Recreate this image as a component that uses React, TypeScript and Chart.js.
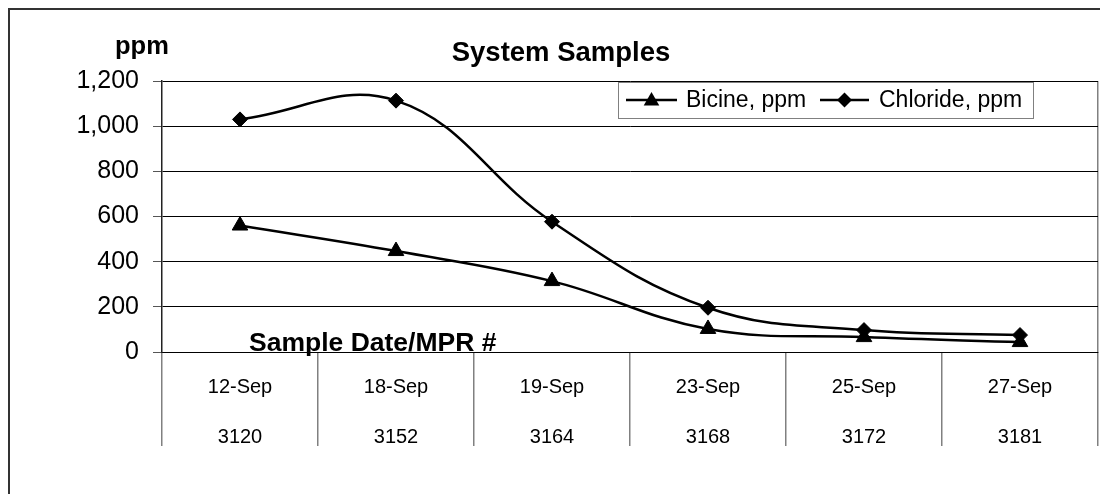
import React, { useEffect, useRef } from 'react';
import { Chart, registerables } from 'chart.js';

Chart.register(...registerables);

const dates = ['12-Sep', '18-Sep', '19-Sep', '23-Sep', '25-Sep', '27-Sep'];
const mprNumbers = ['3120', '3152', '3164', '3168', '3172', '3181'];
const bicine = [560, 447, 314, 102, 66, 44];
const chloride = [1030, 1113, 577, 196, 97, 75];
const seriesNames = ['Bicine, ppm', 'Chloride, ppm'];
const chartTitle = 'System Samples';
const yTitle = 'ppm';
const xTitle = 'Sample Date/MPR #';
const yMin = 0;
const yMax = 1200;
const yStep = 200;

const FONT = '"Liberation Sans", Arial, Helvetica, sans-serif';

function drawTriangle(ctx: CanvasRenderingContext2D, x: number, y: number, r: number) {
  ctx.beginPath();
  ctx.moveTo(x, y - r);
  ctx.lineTo(x + r * Math.sin((2 * Math.PI) / 3), y - r * Math.cos((2 * Math.PI) / 3));
  ctx.lineTo(x + r * Math.sin((4 * Math.PI) / 3), y - r * Math.cos((4 * Math.PI) / 3));
  ctx.closePath();
  ctx.fill();
}

function drawDiamond(ctx: CanvasRenderingContext2D, x: number, y: number, r: number) {
  ctx.beginPath();
  ctx.moveTo(x - r, y);
  ctx.lineTo(x, y - r);
  ctx.lineTo(x + r, y);
  ctx.lineTo(x, y + r);
  ctx.closePath();
  ctx.fill();
}

const decorPlugin = {
  id: 'decor',
  afterDraw(chart: any) {
    const ctx: CanvasRenderingContext2D = chart.ctx;
    ctx.save();
    // outer chart border
    ctx.strokeStyle = '#333333';
    ctx.lineWidth = 2;
    ctx.strokeRect(9, 9, 1110, 520);

    // axis titles
    ctx.fillStyle = '#000';
    ctx.font = `bold 25.5px ${FONT}`;
    ctx.textAlign = 'left';
    ctx.textBaseline = 'alphabetic';
    ctx.fillText(yTitle, 115, 54);
    ctx.font = `bold 26.5px ${FONT}`;
    ctx.fillText(xTitle, 249, 351);

    // legend box
    const bx = 618, by = 82, bw = 415, bh = 36;
    ctx.fillStyle = '#fff';
    ctx.fillRect(bx, by, bw, bh);
    ctx.strokeStyle = '#808080';
    ctx.lineWidth = 1;
    ctx.strokeRect(bx + 0.5, by + 0.5, bw, bh);

    const cy = by + bh / 2;
    ctx.strokeStyle = '#000';
    ctx.fillStyle = '#000';
    ctx.lineWidth = 2.5;
    // bicine sample
    ctx.beginPath();
    ctx.moveTo(626, cy);
    ctx.lineTo(677, cy);
    ctx.stroke();
    drawTriangle(ctx, 651.5, cy + 1, 9);
    // chloride sample
    ctx.beginPath();
    ctx.moveTo(820, cy);
    ctx.lineTo(869, cy);
    ctx.stroke();
    drawDiamond(ctx, 844.5, cy, 7.5);

    ctx.font = `23px ${FONT}`;
    ctx.textBaseline = 'middle';
    ctx.fillText(seriesNames[0], 686, cy + 1);
    ctx.fillText(seriesNames[1], 879, cy + 1);
    ctx.restore();
  },
};

export default function App() {
  const canvasRef = useRef<HTMLCanvasElement | null>(null);

  useEffect(() => {
    const canvas = canvasRef.current;
    if (!canvas) return;
    Chart.defaults.font.family = FONT;
    const labels = dates.map((d, i) => [d, mprNumbers[i]]);
    const chart = new Chart(canvas, {
      type: 'line',
      data: {
        labels,
        datasets: [
          {
            label: seriesNames[0],
            data: bicine,
            borderColor: '#000',
            backgroundColor: '#000',
            borderWidth: 2.5,
            pointStyle: 'triangle',
            pointRadius: 9,
            pointBorderWidth: 1,
            tension: 0.4,
            fill: false,
          },
          {
            label: seriesNames[1],
            data: chloride,
            borderColor: '#000',
            backgroundColor: '#000',
            borderWidth: 2.5,
            pointStyle: 'rectRot',
            pointRadius: 7.5,
            pointBorderWidth: 1,
            tension: 0.4,
            fill: false,
          },
        ],
      },
      options: {
        animation: false,
        responsive: false,
        devicePixelRatio: 1,
        layout: { autoPadding: false, padding: { left: 24, right: 2, top: 0, bottom: 0 } },
        plugins: {
          legend: { display: false },
          tooltip: { enabled: false },
          title: {
            display: true,
            text: chartTitle,
            color: '#000',
            font: { size: 27.5, weight: 'bold', family: FONT, lineHeight: 1.2 },
            padding: { top: 37, bottom: 11 },
          },
        },
        scales: {
          x: {
            type: 'category',
            offset: true,
            grid: {
              offset: true,
              drawOnChartArea: true,
              drawTicks: true,
              tickLength: 94,
              color: (c: any) => (c.index === undefined ? '#808080' : 'rgba(0,0,0,0)'),
              tickColor: '#808080',
              lineWidth: 1.5,
            },
            border: { display: true, color: '#000', width: 1 },
            ticks: {
              autoSkip: false,
              maxRotation: 0,
              minRotation: 0,
              padding: -84,
              color: '#000',
              font: { size: 20, family: FONT, lineHeight: 2.5 },
            },
            afterFit: (scale: any) => {
              scale.height = 142;
            },
          },
          y: {
            min: yMin,
            max: yMax,
            grid: {
              color: '#000',
              lineWidth: 1,
              drawTicks: true,
              tickLength: 9,
              tickColor: '#555',
            },
            border: { display: true, color: '#222', width: 1.5 },
            ticks: {
              stepSize: yStep,
              padding: 14,
              color: '#000',
              font: { size: 25, family: FONT },
              callback: (v: any) => Number(v).toLocaleString('en-US'),
            },
            afterFit: (scale: any) => {
              scale.width = 138;
            },
          },
        },
      },
      plugins: [decorPlugin],
    } as any);
    return () => chart.destroy();
  }, []);

  return (
    <div style={{ position: 'absolute', left: 0, top: 0, width: 1100, height: 494, background: '#fff' }}>
      <canvas ref={canvasRef} width={1100} height={494} style={{ display: 'block' }} />
    </div>
  );
}
